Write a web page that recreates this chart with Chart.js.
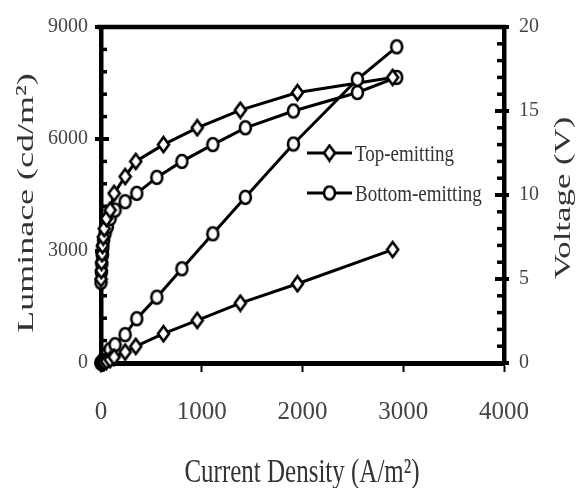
<!DOCTYPE html>
<html>
<head>
<meta charset="utf-8">
<script src="https://cdn.jsdelivr.net/npm/chart.js@4.4.1/dist/chart.umd.min.js"></script>
<style>
  html, body { margin: 0; padding: 0; background: #fff; }
  #wrap { width: 578px; height: 488px; position: relative; }
</style>
</head>
<body>
<div id="wrap"><canvas id="chart"></canvas></div>
<script>
// values
const seriesNames = ['Top-emitting', 'Bottom-emitting'];

// top-emitting device
const topCurrent   = [0, 3, 6, 10, 15, 22, 32, 55, 90, 130, 240, 345, 620, 955, 1383, 1950, 2895];
const topVoltage   = [5.0, 5.5, 6.0, 6.5, 7.0, 7.5, 8.0, 8.6, 9.1, 10.1, 11.1, 12.0, 13.0, 14.0, 15.05, 16.1, 17.0];
const topLuminance = [0, 2, 4, 7, 10, 15, 25, 50, 90, 160, 294, 446, 785, 1141, 1604, 2122, 3039];

// bottom-emitting device
const bottomCurrent   = [0, 4, 8, 13, 19, 26, 40, 63, 90, 139, 239, 355, 554, 803, 1110, 1433, 1910, 2545, 2935];
const bottomVoltage   = [4.8, 5.4, 5.9, 6.4, 6.9, 7.3, 7.7, 8.1, 8.6, 9.1, 9.6, 10.1, 11.05, 12.0, 13.0, 14.0, 15.0, 16.1, 17.0];
const bottomLuminance = [0, 5, 12, 25, 45, 80, 150, 250, 360, 490, 760, 1186, 1764, 2523, 3459, 4437, 5865, 7600, 8470];

const xTitle = 'Current Density (A/m\u00B2)';
const yLeftTitle = 'Luminace (cd/m\u00B2)';
const yRightTitle = 'Voltage (V)';

const serif = '"Liberation Serif", "Times New Roman", serif';

// hollow markers, a bit taller than wide like the scanned figure
function makeMarker(kind, w, h) {
  const c = document.createElement('canvas');
  c.width = Math.ceil(w + 4);
  c.height = Math.ceil(h + 4);
  const g = c.getContext('2d');
  const cx = c.width / 2, cy = c.height / 2;
  g.lineWidth = 2.6;
  g.strokeStyle = '#000';
  g.fillStyle = '#fff';
  g.beginPath();
  if (kind === 'diamond') {
    g.moveTo(cx, cy - h / 2);
    g.lineTo(cx + w / 2, cy);
    g.lineTo(cx, cy + h / 2);
    g.lineTo(cx - w / 2, cy);
    g.closePath();
  } else {
    g.ellipse(cx, cy, w / 2, h / 2, 0, 0, Math.PI * 2);
  }
  g.fill();
  g.stroke();
  return c;
}
const diamond = makeMarker('diamond', 11, 15);
const circle = makeMarker('circle', 11, 13);

const toPoints = (xs, ys) => xs.map((x, i) => ({ x: x, y: ys[i] }));

function lineSet(label, xs, ys, axis, marker) {
  return {
    label: label,
    data: toPoints(xs, ys),
    yAxisID: axis,
    borderColor: '#000',
    borderWidth: 3,
    pointStyle: marker,
    pointRadius: 6,
    backgroundColor: '#fff',
    tension: 0,
    clip: false
  };
}

const plain = (v) => String(v);

// tick marks that cross the axes, minor ones pointing inward
const axisTicks = {
  id: 'axisTicks',
  beforeDatasetsDraw(chart) {
    const { ctx, chartArea, scales } = chart;
    const yL = scales.yL, yR = scales.yR;
    ctx.save();
    ctx.strokeStyle = '#000';
    // top frame line
    ctx.lineWidth = 4.5;
    ctx.beginPath();
    ctx.moveTo(chartArea.left - 4, chartArea.top);
    ctx.lineTo(chartArea.right + 2, chartArea.top);
    ctx.stroke();
    for (let v = 0; v <= 9000; v += 600) {
      const y = yL.getPixelForValue(v);
      const major = v % 3000 === 0;
      ctx.lineWidth = major ? 4 : 3.5;
      ctx.beginPath();
      ctx.moveTo(chartArea.left - (major ? 6 : 0), y);
      ctx.lineTo(chartArea.left + (major ? 8 : 6), y);
      ctx.stroke();
    }
    for (let v = 0; v <= 20; v += 1) {
      const y = yR.getPixelForValue(v);
      const major = v % 5 === 0;
      ctx.lineWidth = major ? 4 : 3.5;
      ctx.beginPath();
      ctx.moveTo(chartArea.right - (major ? 9 : 7), y);
      ctx.lineTo(chartArea.right + (major ? 5 : 0), y);
      ctx.stroke();
    }
    ctx.restore();
  }
};

function stretchedText(ctx, text, x, y, rot, sx, sy, size, align) {
  ctx.save();
  ctx.translate(x, y);
  ctx.rotate(rot);
  ctx.scale(sx, sy);
  ctx.font = size + 'px ' + serif;
  ctx.textAlign = align;
  ctx.textBaseline = 'alphabetic';
  ctx.fillText(text, 0, 0);
  ctx.restore();
}

// axis titles and the in-plot legend
const titlesAndLegend = {
  id: 'titlesAndLegend',
  afterDraw(chart) {
    const ctx = chart.ctx;
    ctx.save();
    ctx.fillStyle = '#333';
    stretchedText(ctx, xTitle, 302, 482, 0, 1, 1.33, 25, 'center');
    stretchedText(ctx, yLeftTitle, 33, 203, -Math.PI / 2, 1.5, 1, 24, 'center');
    stretchedText(ctx, yRightTitle, 570, 198, -Math.PI / 2, 1.45, 1, 24, 'center');

    const markers = [diamond, circle];
    const rows = [153, 193];
    seriesNames.forEach((name, i) => {
      const y = rows[i];
      ctx.strokeStyle = '#000';
      ctx.lineWidth = 3;
      ctx.beginPath();
      ctx.moveTo(307, y);
      ctx.lineTo(352, y);
      ctx.stroke();
      const m = markers[i];
      ctx.drawImage(m, 329.5 - m.width / 2, y - m.height / 2);
      ctx.fillStyle = '#333';
      stretchedText(ctx, name, 355, y + 7.5, 0, 1, 1.25, 19, 'left');
    });
    ctx.restore();
  }
};

new Chart(document.getElementById('chart'), {
  type: 'line',
  data: {
    datasets: [
      lineSet(seriesNames[0] + ' luminance', topCurrent, topLuminance, 'yL', diamond),
      lineSet(seriesNames[1] + ' luminance', bottomCurrent, bottomLuminance, 'yL', circle),
      lineSet(seriesNames[0] + ' voltage', topCurrent, topVoltage, 'yR', diamond),
      lineSet(seriesNames[1] + ' voltage', bottomCurrent, bottomVoltage, 'yR', circle)
    ]
  },
  options: {
    responsive: true,
    maintainAspectRatio: false,
    animation: false,
    layout: { padding: { top: 26, left: 0, right: 0, bottom: 0 } },
    plugins: {
      legend: { display: false },
      tooltip: { enabled: false }
    },
    scales: {
      x: {
        type: 'linear',
        min: 0,
        max: 4000,
        afterFit: (scale) => { scale.height = 125; },
        ticks: {
          stepSize: 1000,
          padding: 25,
          color: '#444',
          callback: plain,
          font: { family: serif, size: 25 }
        },
        grid: {
          drawOnChartArea: false,
          drawTicks: true,
          tickLength: 9,
          tickWidth: 2,
          color: '#000'
        },
        border: { display: true, color: '#000', width: 5 }
      },
      yL: {
        type: 'linear',
        position: 'left',
        min: 0,
        max: 9000,
        afterFit: (scale) => { scale.width = 101; },
        ticks: {
          stepSize: 3000,
          padding: 13,
          color: '#444',
          callback: plain,
          font: { family: serif, size: 20 }
        },
        grid: { display: false, drawTicks: false },
        border: { display: true, color: '#000', width: 4.5 }
      },
      yR: {
        type: 'linear',
        position: 'right',
        min: 0,
        max: 20,
        afterFit: (scale) => { scale.width = 74; },
        ticks: {
          stepSize: 5,
          padding: 15,
          color: '#444',
          callback: plain,
          font: { family: serif, size: 20 }
        },
        grid: { display: false, drawTicks: false },
        border: { display: true, color: '#000', width: 4.5 }
      }
    }
  },
  plugins: [axisTicks, titlesAndLegend]
});
</script>
</body>
</html>
